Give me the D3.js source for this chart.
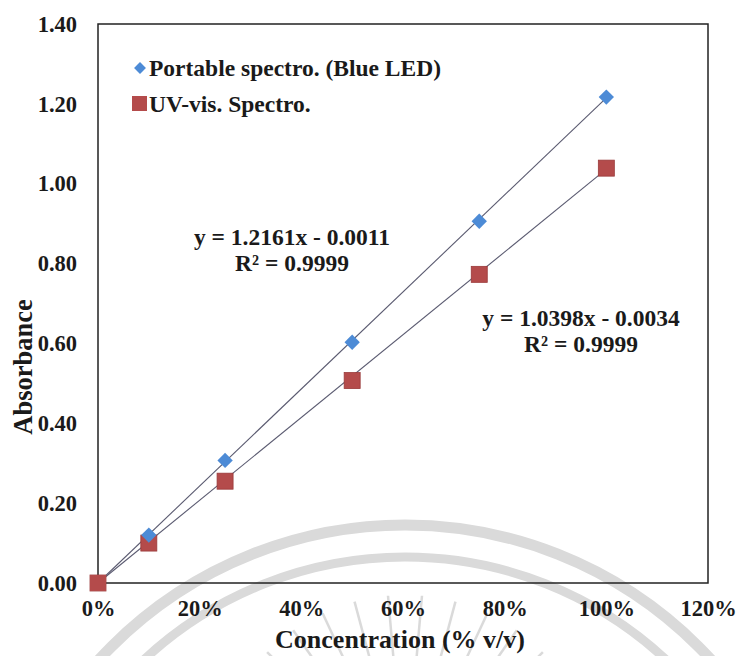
<!DOCTYPE html>
<html>
<head>
<meta charset="utf-8">
<script src="https://cdn.jsdelivr.net/npm/d3@7"></script>
<style>
  body { margin: 0; background: #fff; }
  text { font-family: "Liberation Serif", "Times New Roman", serif; font-weight: bold; fill: #1a1a1a; }
</style>
</head>
<body>
<svg id="chart" width="737" height="656"></svg>
<script>
// data
const concentration = [0, 0.10, 0.25, 0.50, 0.75, 1.00];
const portableAbs = [0, 0.120, 0.307, 0.603, 0.906, 1.217];
const uvvisAbs = [0, 0.100, 0.255, 0.507, 0.773, 1.039];
const xTicks = [0, 0.2, 0.4, 0.6, 0.8, 1.0, 1.2];
const yTicks = [0, 0.2, 0.4, 0.6, 0.8, 1.0, 1.2, 1.4];
const fitPortable = { slope: 1.2161, icept: -0.0011, label: "y = 1.2161x - 0.0011", r2: "R² = 0.9999" };
const fitUvvis = { slope: 1.0398, icept: -0.0034, label: "y = 1.0398x - 0.0034", r2: "R² = 0.9999" };
const legendNames = ["Portable spectro. (Blue LED)", "UV-vis. Spectro."];

const svg = d3.select("#chart");
const mLeft = 98, mRight = 708, mTop = 24, mBottom = 583;

const x = d3.scaleLinear().domain([0, 1.2]).range([mLeft, mRight]);
const y = d3.scaleLinear().domain([0, 1.4]).range([mBottom, mTop]);

// faint watermark behind the chart
const wm = svg.append("g").attr("stroke", "#dadada").attr("fill", "none");
wm.append("circle").attr("cx", 405).attr("cy", 940).attr("r", 415).attr("stroke-width", 11);
wm.append("circle").attr("cx", 405).attr("cy", 940).attr("r", 383).attr("stroke-width", 9);
d3.range(-55, 56, 10).forEach(a => {
  const r = a * Math.PI / 180;
  wm.append("line")
    .attr("x1", 405 + Math.sin(r) * 110).attr("y1", 790 - Math.cos(r) * 110)
    .attr("x2", 405 + Math.sin(r) * 195).attr("y2", 790 - Math.cos(r) * 195)
    .attr("stroke-width", 2.5);
});

// plot border
svg.append("rect")
  .attr("x", mLeft).attr("y", mTop)
  .attr("width", mRight - mLeft).attr("height", mBottom - mTop)
  .attr("fill", "none").attr("stroke", "#222").attr("stroke-width", 1.5);

// axes (labels only, no tick marks)
const xAxis = svg.append("g")
  .attr("transform", `translate(0,${mBottom})`)
  .call(d3.axisBottom(x).tickValues(xTicks).tickFormat(d3.format(".0%")).tickSize(0).tickPadding(17));
const yAxis = svg.append("g")
  .attr("transform", `translate(${mLeft},0)`)
  .call(d3.axisLeft(y).tickValues(yTicks).tickFormat(d3.format(".2f")).tickSize(0).tickPadding(21));
[xAxis, yAxis].forEach(g => {
  g.select(".domain").remove();
  g.selectAll("text").attr("font-size", 22.5).attr("font-family", null).attr("fill", "#1a1a1a");
});

// trend lines
const trend = [fitPortable, fitUvvis];
svg.selectAll(".trend").data(trend).enter().append("line")
  .attr("class", "trend")
  .attr("x1", x(0)).attr("y1", d => y(Math.max(0, d.icept)))
  .attr("x2", x(1)).attr("y2", d => y(d.slope + d.icept))
  .attr("stroke", "#5a5a70").attr("stroke-width", 1.1);

// markers
const blue = "#4d8bd6", red = "#b44b4b";
const diamond = d3.symbol().type(d3.symbolDiamond2).size(150);
svg.selectAll(".uv").data(concentration).enter().append("rect")
  .attr("class", "uv")
  .attr("x", (d) => x(d) - 8).attr("y", (d, i) => y(uvvisAbs[i]) - 8)
  .attr("width", 16).attr("height", 16)
  .attr("fill", red).attr("stroke", "#9a3a3a").attr("stroke-width", 0.8);
svg.selectAll(".pt").data(concentration).enter().append("path")
  .attr("class", "pt")
  .attr("d", diamond)
  .attr("transform", (d, i) => `translate(${x(d)},${y(portableAbs[i])})`)
  .attr("fill", blue);
// red square at origin sits on top in the picture
svg.append("rect")
  .attr("x", x(concentration[0]) - 8).attr("y", y(uvvisAbs[0]) - 8)
  .attr("width", 16).attr("height", 16).attr("fill", red);

// legend
const lg = svg.append("g").attr("transform", "translate(140,0)");
lg.append("path").attr("d", d3.symbol().type(d3.symbolDiamond2).size(90))
  .attr("transform", "translate(0,68)").attr("fill", blue);
lg.append("text").attr("x", 9).attr("y", 76).attr("font-size", 23.5).text(legendNames[0]);
lg.append("rect").attr("x", -8).attr("y", 96).attr("width", 15).attr("height", 15).attr("fill", red);
lg.append("text").attr("x", 9).attr("y", 112).attr("font-size", 23.5).text(legendNames[1]);

// equation labels
const eq = [
  { fit: fitPortable, cx: 292, cy: 245 },
  { fit: fitUvvis, cx: 581, cy: 326 }
];
eq.forEach(e => {
  svg.append("text").attr("x", e.cx).attr("y", e.cy).attr("text-anchor", "middle")
    .attr("font-size", 23.5).text(e.fit.label);
  svg.append("text").attr("x", e.cx).attr("y", e.cy + 26).attr("text-anchor", "middle")
    .attr("font-size", 23.5).text(e.fit.r2);
});

// axis titles
svg.append("text").attr("x", 400).attr("y", 648).attr("text-anchor", "middle")
  .attr("font-size", 26).text("Concentration (% v/v)");
svg.append("text").attr("transform", "translate(32,367) rotate(-90)").attr("text-anchor", "middle")
  .attr("font-size", 26.5).text("Absorbance");
</script>
</body>
</html>
